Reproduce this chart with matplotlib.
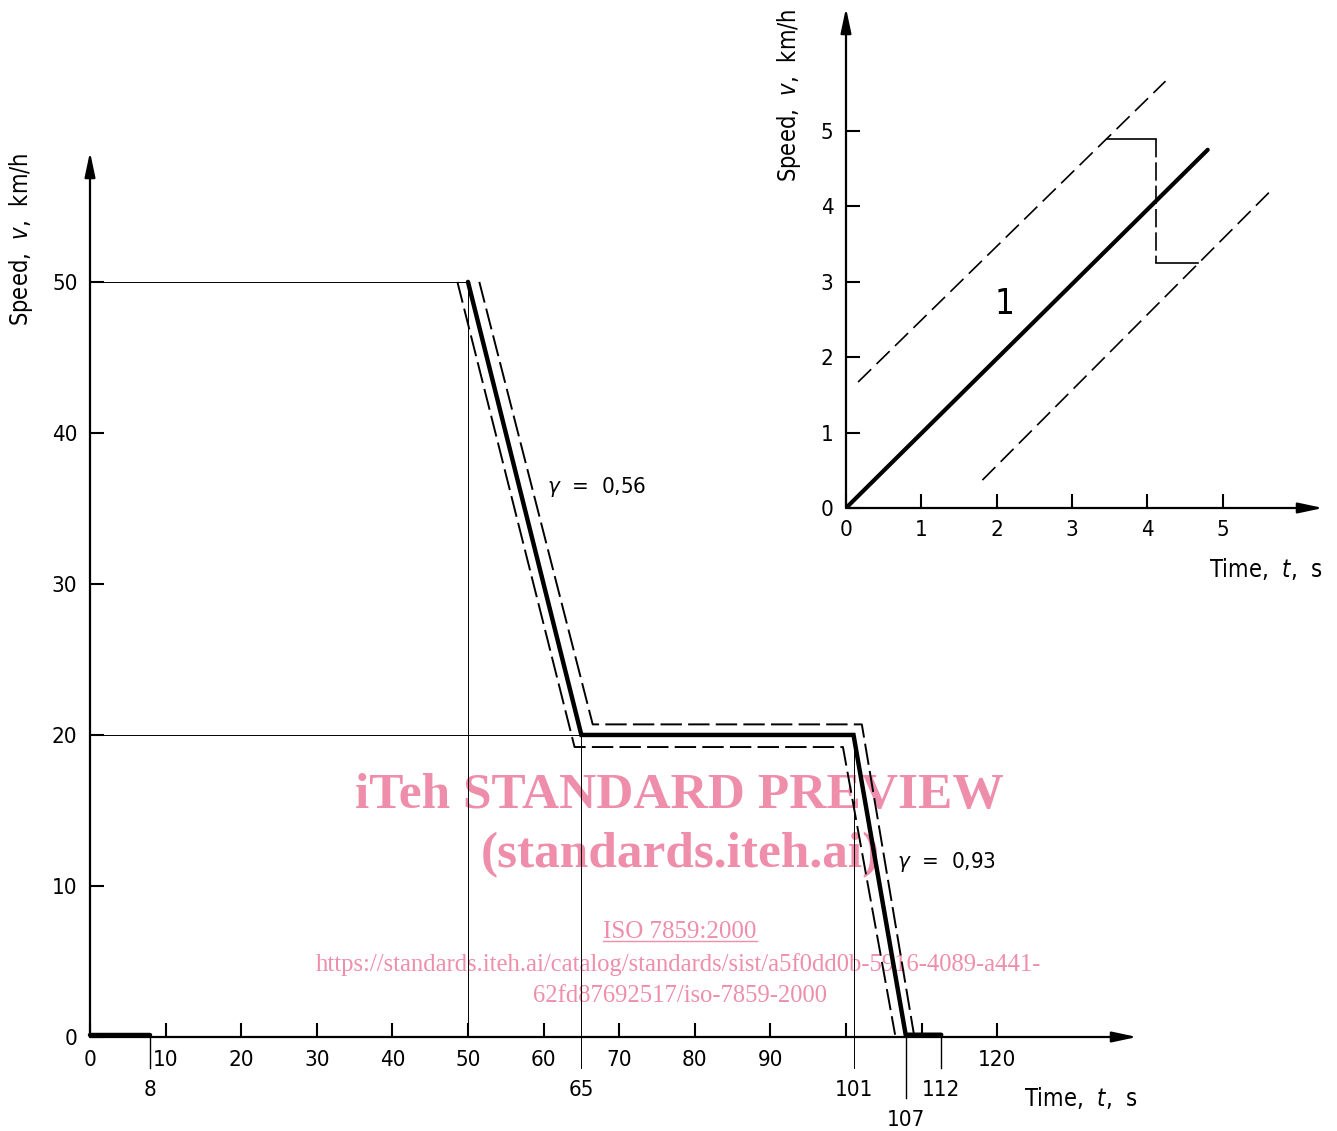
import matplotlib
matplotlib.use("Agg")
import matplotlib.pyplot as plt
from matplotlib.lines import Line2D

plt.rcParams['font.family'] = ['DejaVu Sans']
plt.rcParams['font.stretch'] = 'condensed'
plt.rcParams['mathtext.fontset'] = 'dejavusans'

# ---------------- data: main chart ----------------
start_t = [0, 8]
start_v = [0.15, 0.15]
profile_t = [50, 65, 101, 107.9, 112.6]
profile_v = [50, 20, 20, 0.15, 0.15]
lower_t = [48.6, 64.1, 99.6, 106.5]
lower_v = [50, 19.2, 19.2, 0.15]
upper_t = [51.5, 66.5, 102.1, 109.0]
upper_v = [50, 20.7, 20.7, 0.15]
guide_levels = [50, 20]
guide_level_ends = [50, 65]
mark_t = [8, 65, 101, 107.9, 112.6]
mark_labels = ['8', '65', '101', '107', '112']
mark_row = [0, 0, 0, 1, 0]
xticks = [0, 10, 20, 30, 40, 50, 60, 70, 80, 90, 100, 110, 120]
xticklabels = ['0', '10', '20', '30', '40', '50', '60', '70', '80', '90', '', '', '120']
yticks = [0, 10, 20, 30, 40, 50]
gamma_labels = ['0,56', '0,93']
gamma_pos_t = [60.4, 106.7]
gamma_pos_v = [36.4, 11.6]

# ---------------- data: inset ----------------
ins_t = [0, 4.8]
ins_v = [0, 4.75]
ins_up_t = [0.16, 4.24]
ins_up_v = [1.67, 5.66]
ins_lo_t = [1.81, 5.66]
ins_lo_v = [0.37, 4.23]
step_hi_t = [3.46, 4.11]
step_hi_v = [4.89, 4.89]
step_jump_t = [4.11, 4.11]
step_jump_v = [4.89, 3.245]
step_lo_t = [4.11, 4.675]
step_lo_v = [3.245, 3.245]
ins_ticks = [0, 1, 2, 3, 4, 5]

W, H = 1337, 1131
fig = plt.figure(figsize=(W / 100, H / 100), dpi=100)
fig.patch.set_facecolor('white')

def fx(px):
    return px / W

def fy(py):
    return 1 - py / H

FS = 16
LFS = 17
DASH = (11, 3.2)
arrow_style = '-|>,head_length=0.75,head_width=0.16'

# ---------------- main axes ----------------
ax = fig.add_axes([fx(90), fy(1037), (1137 - 90) / W, (1037 - 152) / H])
ax.patch.set_visible(False)
X_MAX, Y_MAX = 138.5, 58.6
ax.set_xlim(0, X_MAX)
ax.set_ylim(0, Y_MAX)
for s in ax.spines.values():
    s.set_visible(False)

ax.annotate('', xy=(X_MAX, 0), xytext=(0, 0), annotation_clip=False,
            arrowprops=dict(arrowstyle=arrow_style, lw=1.6, color='k',
                            shrinkA=0, shrinkB=0, mutation_scale=20))
ax.annotate('', xy=(0, Y_MAX), xytext=(0, 0), annotation_clip=False,
            arrowprops=dict(arrowstyle=arrow_style, lw=1.6, color='k',
                            shrinkA=0, shrinkB=0, mutation_scale=20))

ax.set_xticks(xticks)
ax.set_xticklabels(xticklabels)
ax.set_yticks(yticks)
ax.tick_params(axis='both', direction='in', length=10, width=1.5, labelsize=FS,
               color='k')
ax.tick_params(axis='x', pad=9)
ax.tick_params(axis='y', pad=9)

# guide lines
for lvl, end in zip(guide_levels, guide_level_ends):
    ax.plot([0, end], [lvl, lvl], color='k', lw=0.7, solid_capstyle='butt')
ax.plot([50, 50], [0, 50], color='k', lw=0.7)
for t, lab, row in zip(mark_t, mark_labels, mark_row):
    top = 20 if t in (65, 101) else 0
    bottom = -2.05 if row == 0 else -4.05
    ax.plot([t, t], [bottom, top], color='k', lw=1.0 if top == 0 else 0.7,
            clip_on=False)
    ax.text(t, -3.5 if row == 0 else -5.5, lab, ha='center', va='center',
            fontsize=FS, clip_on=False)

# tolerance lines
ax.plot(lower_t, lower_v, color='k', lw=1.4, dashes=DASH, clip_on=False)
ax.plot(upper_t, upper_v, color='k', lw=1.4, dashes=DASH, clip_on=False)
# driving schedule
ax.plot(start_t, start_v, color='k', lw=3.2, solid_capstyle='round', clip_on=False)
ax.plot(profile_t, profile_v, color='k', lw=3.2, solid_joinstyle='miter',
        solid_capstyle='round', clip_on=False)

for lab, t, v in zip(gamma_labels, gamma_pos_t, gamma_pos_v):
    ax.text(t, v, r'$\mathit{\gamma}$  =  ' + lab, ha='left', va='center', fontsize=FS)

fig.text(fx(21), fy(239), r'Speed,  $\mathit{v}$,  km/h', rotation=90,
         ha='center', va='center', fontsize=LFS)
fig.text(fx(1138), fy(1098), r'Time,  $\mathit{t}$,  s', ha='right', va='center',
         fontsize=LFS)

# ---------------- inset axes ----------------
ax2 = fig.add_axes([fx(846), fy(508), (1323 - 846) / W, (508 - 8) / H])
ax2.patch.set_visible(False)
IX, IY = 6.33, 6.63
ax2.set_xlim(0, IX)
ax2.set_ylim(0, IY)
for s in ax2.spines.values():
    s.set_visible(False)
ax2.annotate('', xy=(IX, 0), xytext=(0, 0), annotation_clip=False,
             arrowprops=dict(arrowstyle=arrow_style, lw=1.6, color='k',
                             shrinkA=0, shrinkB=0, mutation_scale=20))
ax2.annotate('', xy=(0, IY), xytext=(0, 0), annotation_clip=False,
             arrowprops=dict(arrowstyle=arrow_style, lw=1.6, color='k',
                             shrinkA=0, shrinkB=0, mutation_scale=20))
ax2.set_xticks(ins_ticks)
ax2.set_yticks(ins_ticks)
ax2.tick_params(axis='both', direction='in', length=10, width=1.5, labelsize=FS,
                pad=9)

ax2.plot(ins_up_t, ins_up_v, color='k', lw=1.2, dashes=(11, 4.5))
ax2.plot(ins_lo_t, ins_lo_v, color='k', lw=1.2, dashes=(11, 4.5))
ax2.plot(step_hi_t, step_hi_v, color='k', lw=1.2)
ax2.plot(step_jump_t, step_jump_v, color='k', lw=1.2, dashes=(11, 3))
ax2.plot(step_lo_t, step_lo_v, color='k', lw=1.2)
ax2.plot(ins_t, ins_v, color='k', lw=3.0, solid_capstyle='round')
ax2.text(2.1, 2.7, '1', ha='center', va='center', fontsize=25)

fig.text(fx(789), fy(95), r'Speed,  $\mathit{v}$,  km/h', rotation=90,
         ha='center', va='center', fontsize=LFS)
fig.text(fx(1323), fy(569), r'Time,  $\mathit{t}$,  s', ha='right', va='center',
         fontsize=LFS)

# ---------------- watermark ----------------
PINK = '#EF8EAB'
serif = ['Liberation Serif', 'DejaVu Serif']
fig.text(fx(679), fy(796), 'iTeh STANDARD PREVIEW', ha='center', va='center',
         fontsize=37, fontweight='bold', color=PINK, family=serif,
         fontstretch='normal', zorder=-1)
fig.text(fx(680), fy(855), '(standards.iteh.ai)', ha='center', va='center',
         fontsize=37, fontweight='bold', color=PINK, family=serif,
         fontstretch='normal', zorder=-1)
iso = fig.text(fx(680), fy(932), 'ISO 7859:2000', ha='center', va='center',
               fontsize=18, color=PINK, family=serif, fontstretch='normal', zorder=-1)
fig.text(fx(679), fy(965), 'https://standards.iteh.ai/catalog/standards/sist/a5f0dd0b-5916-4089-a441-',
         ha='center', va='center', fontsize=17.7, color=PINK, family=serif,
         fontstretch='normal', zorder=-1)
fig.text(fx(680), fy(996), '62fd87692517/iso-7859-2000', ha='center', va='center',
         fontsize=17.7, color=PINK, family=serif, fontstretch='normal', zorder=-1)

fig.canvas.draw()
bb = iso.get_window_extent()
inv = fig.transFigure.inverted()
(x0, y0), (x1, y1) = inv.transform([(bb.x0, bb.y0), (bb.x1, bb.y0)])
fig.add_artist(Line2D([x0, x1], [y0 + 0.0015, y0 + 0.0015], color=PINK, lw=1.0,
                      transform=fig.transFigure, zorder=-1))

fig.savefig('out.png', dpi=100)
